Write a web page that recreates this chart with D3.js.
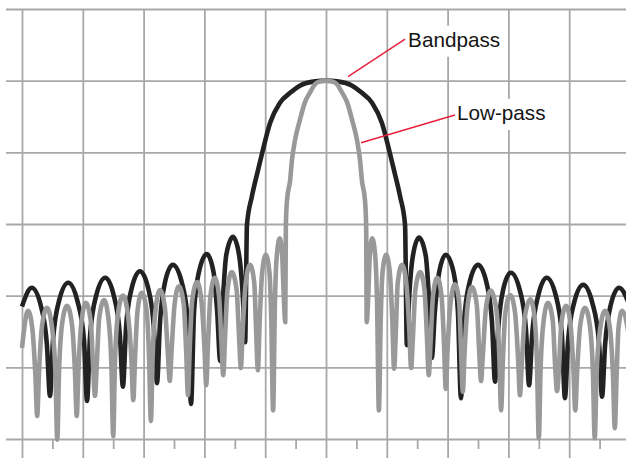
<!DOCTYPE html>
<html>
<head>
<meta charset="utf-8">
<script src="https://cdn.jsdelivr.net/npm/d3@7"></script>
<style>
  html, body { margin: 0; padding: 0; background: #fff; }
  svg { display: block; }
</style>
</head>
<body>
<svg id="chart" width="626" height="458"></svg>
<script>
// ---- data (frequency offset, level in dB) ----
const gridX = [-50, -40, -30, -20, -10, 0, 10, 20, 30, 40, 50];
const minorX = [-45, -35, -25, -15, -5, 5, 15, 25, 35, 45];
const gridY = [10, 0, -10, -20, -30, -40, -50];

// Bandpass (black) trace
const bandpassX = [
  -50.0, -48.4, -46.9, -45.9,
  -45.4, -44.9, -43.9, -42.4, -40.9, -39.8,
  -39.3, -38.8, -37.8, -36.3, -34.9, -33.9,
  -33.4, -32.9, -32.0, -30.6, -29.2, -28.3,
  -27.8, -27.3, -26.5, -25.2, -23.7, -22.7,
  -22.2, -21.7, -20.9, -19.6, -18.5, -17.9,
  -17.4, -16.9, -16.4, -15.3, -14.3, -13.7,
  -13.3, -13.0, -12.2, -11.3, -10.5, -9.2, -7.6, -5.9, -4.3, -1.8,
  0,
  1.8, 4.3, 5.9, 7.6, 9.2, 10.5, 11.3, 12.2, 13.0, 13.3,
  13.7, 14.3, 15.3, 16.4, 16.9, 17.4,
  17.9, 18.6, 19.7, 21.0, 21.7, 22.2,
  22.7, 23.6, 25.0, 26.4, 27.3, 27.8,
  28.3, 29.1, 30.4, 31.9, 32.9, 33.4,
  33.9, 34.9, 36.3, 37.8, 38.8, 39.3,
  39.8, 40.8, 42.3, 43.8, 44.9, 45.4,
  45.9, 46.8, 48.2, 50.0
];
const bandpassDb = [
  -31.5, -28.9, -31.4, -36.9,
  -44.0, -36.2, -30.7, -28.2, -30.7, -36.2,
  -44.7, -35.5, -30.0, -27.5, -30.0, -35.5,
  -42.7, -34.6, -29.1, -26.6, -29.1, -34.6,
  -42.2, -33.7, -28.2, -25.7, -28.2, -33.7,
  -45.1, -32.2, -26.7, -24.2, -26.7, -32.2,
  -39.1, -29.8, -24.3, -21.8, -24.3, -29.8,
  -36.5, -20.1, -16.2, -12.9, -10.1, -5.9, -3.1, -1.7, -0.7, -0.1,
  0,
  -0.1, -0.7, -1.7, -3.1, -5.9, -10.1, -12.9, -16.2, -20.1, -36.9,
  -29.9, -24.4, -21.9, -24.4, -29.9, -38.7,
  -32.3, -26.8, -24.3, -26.8, -32.3, -44.3,
  -33.7, -28.2, -25.7, -28.2, -33.7, -42.0,
  -34.8, -29.3, -26.8, -29.3, -34.8, -42.5,
  -35.5, -30.0, -27.5, -30.0, -35.5, -44.3,
  -36.5, -31.0, -28.5, -31.0, -36.5, -44.1,
  -36.9, -31.4, -28.9, -31.5
];

// Low-pass (grey) trace
const lowpassX = [
  -50.0, -49.0, -48.3, -47.8,
  -47.5, -47.2, -46.7, -45.9, -45.1, -44.5,
  -44.2, -43.9, -43.4, -42.6, -41.8, -41.3,
  -41.0, -40.7, -40.2, -39.5, -38.7, -38.3,
  -38.0, -37.7, -37.3, -36.5, -35.8, -35.3,
  -35.0, -34.7, -34.2, -33.4, -32.6, -32.0,
  -31.7, -31.4, -31.0, -30.3, -29.5, -29.1,
  -28.8, -28.5, -28.0, -27.3, -26.5, -26.0,
  -25.7, -25.4, -24.9, -24.2, -23.4, -23.0,
  -22.7, -22.4, -22.0, -21.2, -20.5, -20.0,
  -19.7, -19.4, -19.0, -18.3, -17.6, -17.2,
  -16.9, -16.6, -16.2, -15.5, -14.7, -14.3,
  -14.0, -13.7, -13.2, -12.5, -11.8, -11.5,
  -11.2, -10.9, -10.5, -9.9, -9.3, -9.0,
  -8.7, -8.4, -8.1, -7.6, -7.2, -6.95,
  -6.7, -6.6, -6.4, -5.9, -5.6, -5.1, -4.3, -3.5, -2.6, -1.8, -1.0,
  0,
  1.0, 1.8, 2.6, 3.5, 4.3, 5.1, 5.6, 5.9, 6.4, 6.6, 6.7,
  6.95, 7.2, 7.6, 8.1, 8.4, 8.7,
  9.0, 9.3, 9.9, 10.5, 10.9, 11.2,
  11.5, 11.8, 12.5, 13.2, 13.7, 14.0,
  14.3, 14.7, 15.5, 16.2, 16.6, 16.9,
  17.2, 17.6, 18.3, 19.0, 19.4, 19.7,
  20.0, 20.5, 21.2, 21.9, 22.2, 22.5,
  22.8, 23.3, 24.0, 24.8, 25.2, 25.5,
  25.8, 26.3, 27.1, 28.0, 28.5, 28.8,
  29.1, 29.5, 30.3, 31.1, 31.6, 31.9,
  32.2, 32.7, 33.6, 34.3, 34.7, 35.0,
  35.3, 35.8, 36.5, 37.3, 37.7, 38.0,
  38.3, 38.7, 39.5, 40.2, 40.7, 41.0,
  41.3, 41.8, 42.6, 43.4, 43.9, 44.2,
  44.5, 45.1, 45.9, 46.7, 47.2, 47.5,
  47.8, 48.1, 48.7, 50.0
];
const lowpassDb = [
  -37.3, -32.1, -34.6, -41.1,
  -46.8, -40.7, -34.2, -31.7, -34.2, -40.7,
  -50.1, -40.4, -33.9, -31.4, -33.9, -40.4,
  -46.8, -40.0, -33.5, -31.0, -33.5, -40.0,
  -44.0, -39.6, -33.1, -30.6, -33.1, -39.6,
  -49.6, -39.0, -32.5, -30.0, -32.5, -39.0,
  -44.6, -38.6, -32.1, -29.6, -32.1, -38.6,
  -47.5, -38.2, -31.7, -29.2, -31.7, -38.2,
  -41.9, -37.7, -31.2, -28.7, -31.2, -37.7,
  -43.9, -37.1, -30.6, -28.1, -30.6, -37.1,
  -42.5, -36.5, -30.0, -27.5, -30.0, -36.5,
  -41.1, -35.7, -29.2, -26.7, -29.2, -35.7,
  -40.1, -34.7, -28.2, -25.7, -28.2, -34.7,
  -40.4, -33.3, -26.8, -24.3, -26.8, -33.3,
  -46.0, -31.0, -24.5, -22.0, -24.5, -30.0,
  -33.7, -20.1, -16.6, -13.9, -11.1, -8.3, -5.5, -3.1, -1.6, -0.5, -0.1,
  0,
  -0.1, -0.5, -1.6, -3.1, -5.5, -8.3, -11.1, -13.9, -16.6, -20.1, -33.7,
  -30.0, -24.5, -22.0, -24.5, -31.0, -46.0,
  -33.3, -26.8, -24.3, -26.8, -33.3, -40.2,
  -34.7, -28.2, -25.7, -28.2, -34.7, -40.1,
  -35.7, -29.2, -26.7, -29.2, -35.7, -41.1,
  -36.5, -30.0, -27.5, -30.0, -36.5, -43.0,
  -37.4, -30.9, -28.4, -30.9, -37.4, -43.4,
  -37.8, -31.3, -28.8, -31.3, -37.8, -41.9,
  -38.3, -31.8, -29.3, -31.8, -38.3, -46.0,
  -38.9, -32.4, -29.9, -32.4, -38.9, -43.9,
  -39.5, -33.0, -30.5, -33.0, -39.5, -49.9,
  -40.0, -33.5, -31.0, -33.5, -40.0, -43.3,
  -40.4, -33.9, -31.4, -33.9, -40.4, -46.0,
  -40.7, -34.2, -31.7, -34.2, -40.7, -49.9,
  -41.1, -34.6, -32.1, -34.6, -41.1, -48.5,
  -41.1, -34.6, -32.1, -36.5
];

const seriesNames = ["Bandpass", "Low-pass"];

// ---- layout ----
const svg = d3.select("#chart");
const x = d3.scaleLinear().domain([-50, 50]).range([22, 630]);
const y = d3.scaleLinear().domain([10, -50]).range([9, 439]);

const gridColor = "#a8a8a8";

// horizontal grid lines
const hAxis = d3.axisLeft(y).tickValues(gridY).tickSize(620).tickFormat("");
const gH = svg.append("g").attr("transform", "translate(626,0)").call(hAxis);
// vertical grid lines
const vAxis = d3.axisBottom(x).tickValues(gridX).tickSize(449).tickFormat("");
const gV = svg.append("g").attr("transform", `translate(0,${y(10)})`).call(vAxis);
// minor ticks on bottom line
const mAxis = d3.axisBottom(x).tickValues(minorX).tickSize(10).tickFormat("");
const gM = svg.append("g").attr("transform", `translate(0,${y(-50)})`).call(mAxis);

[gH, gV, gM].forEach(g => {
  g.select(".domain").remove();
  g.selectAll(".tick line").attr("stroke", gridColor).attr("stroke-width", 1.8);
});

// ---- curves ----
const line = d3.line()
  .x(d => x(d[0]))
  .y(d => y(d[1]))
  .curve(d3.curveMonotoneX);

const bandpass = bandpassX.map((v, i) => [v, bandpassDb[i]]);
const lowpass = lowpassX.map((v, i) => [v, lowpassDb[i]]);

svg.append("path")
  .datum(bandpass)
  .attr("d", line)
  .attr("fill", "none")
  .attr("stroke", "#222")
  .attr("stroke-width", 4.6)
  .attr("stroke-linejoin", "round");

svg.append("path")
  .datum(lowpass)
  .attr("d", line)
  .attr("fill", "none")
  .attr("stroke", "#999")
  .attr("stroke-width", 4.6)
  .attr("stroke-linejoin", "round");

// ---- annotations ----
const notes = [
  { text: seriesNames[0], tx: 13.5, ty: 4.74, from: [13.0, 5.78], to: [3.62, 0.56] },
  { text: seriesNames[1], tx: 21.55, ty: -5.48, from: [21.2, -4.79], to: [5.76, -8.65] }
];

notes.forEach(n => {
  const g = svg.append("g");
  const bg = g.append("rect").attr("fill", "#fff");
  const t = g.append("text")
    .attr("x", x(n.tx))
    .attr("y", y(n.ty))
    .attr("font-family", "'Liberation Sans', Arial, Helvetica, sans-serif")
    .attr("font-size", 20.7)
    .attr("fill", "#151515")
    .text(n.text);
  const bb = t.node().getBBox();
  bg.attr("x", bb.x - 3).attr("y", bb.y - 2)
    .attr("width", bb.width + 6).attr("height", bb.height + 8);
  svg.append("line")
    .attr("x1", x(n.from[0])).attr("y1", y(n.from[1]))
    .attr("x2", x(n.to[0])).attr("y2", y(n.to[1]))
    .attr("stroke", "#e8203c")
    .attr("stroke-width", 1.5);
});
</script>
</body>
</html>
